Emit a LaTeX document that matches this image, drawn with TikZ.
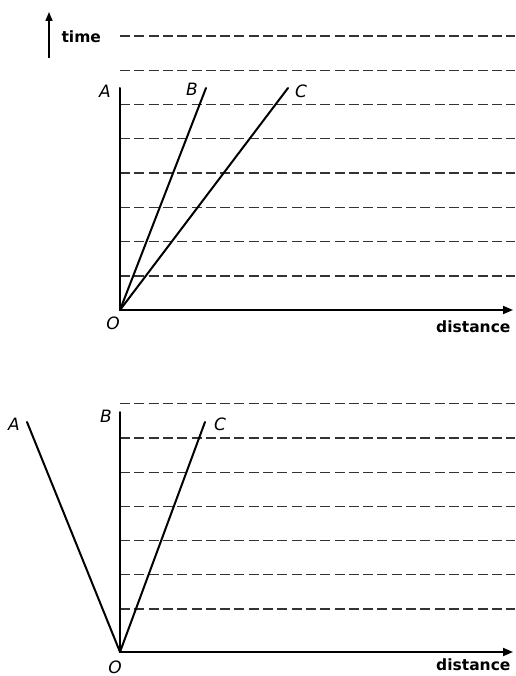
\documentclass[tikz,border=0pt]{standalone}
\usepackage{fontspec}
\setmainfont{DejaVu Sans}
\usetikzlibrary{arrows.meta}
\begin{document}
\begin{tikzpicture}[x=1pt,y=-1pt,
  solidline/.style={line width=2pt,line cap=round},
  axisline/.style={line width=1.8pt,-{Triangle[length=10pt,width=8pt]}},
  guide/.style={line width=1.3pt,draw=black!80,dash pattern=on 10pt off 4.3pt},
  letterlbl/.style={font=\fontsize{17}{17}\selectfont\itshape},
  wordlbl/.style={font=\fontsize{15.5}{15.5}\selectfont\bfseries}]
\useasboundingbox (0,0) rectangle (515,676);

% ---- time arrow
\coordinate (tb) at (49,58);
\coordinate (tt) at (49,12);
\draw[line width=1.6pt,-{Triangle[length=9pt,width=7pt]}] (tb) -- (tt);
\node[wordlbl,anchor=west] (time) at (58,37) {time};

% ---- top diagram
\foreach \k in {0,...,7} {
  \coordinate (gl\k) at (120,{276-34.3*\k});
  \coordinate (gr\k) at (515,{276-34.3*\k});
  \draw[guide] (gl\k) -- (gr\k);
}
\coordinate (O1) at (120,310);
\coordinate (A1) at (120,88);
\coordinate (B1) at (206,88);
\coordinate (C1) at (288,88);
\coordinate (X1) at (513,310);
\draw[solidline] (O1) -- (A1);
\draw[solidline] (O1) -- (B1);
\draw[solidline] (O1) -- (C1);
\draw[axisline] (O1) -- (X1);
\node[letterlbl] (lA1) at (105,91) {A};
\node[letterlbl] (lB1) at (192,89) {B};
\node[letterlbl] (lC1) at (301,91) {C};
\node[letterlbl] (lO1) at (113,323) {O};
\node[wordlbl,anchor=east] (d1) at (514,327) {distance};

% ---- bottom diagram
\foreach \k in {0,...,6} {
  \coordinate (hl\k) at (120,{609-34.2*\k});
  \coordinate (hr\k) at (515,{609-34.2*\k});
  \draw[guide] (hl\k) -- (hr\k);
}
\coordinate (O2) at (120,652);
\coordinate (A2) at (27,422);
\coordinate (B2) at (120,412);
\coordinate (C2) at (205,422);
\coordinate (X2) at (513,652);
\draw[solidline] (O2) -- (A2);
\draw[solidline] (O2) -- (B2);
\draw[solidline] (O2) -- (C2);
\draw[axisline] (O2) -- (X2);
\node[letterlbl] (lA2) at (14,424) {A};
\node[letterlbl] (lB2) at (106,416) {B};
\node[letterlbl] (lC2) at (220,424) {C};
\node[letterlbl] (lO2) at (115,667) {O};
\node[wordlbl,anchor=east] (d2) at (514,665) {distance};
\end{tikzpicture}
\end{document}
